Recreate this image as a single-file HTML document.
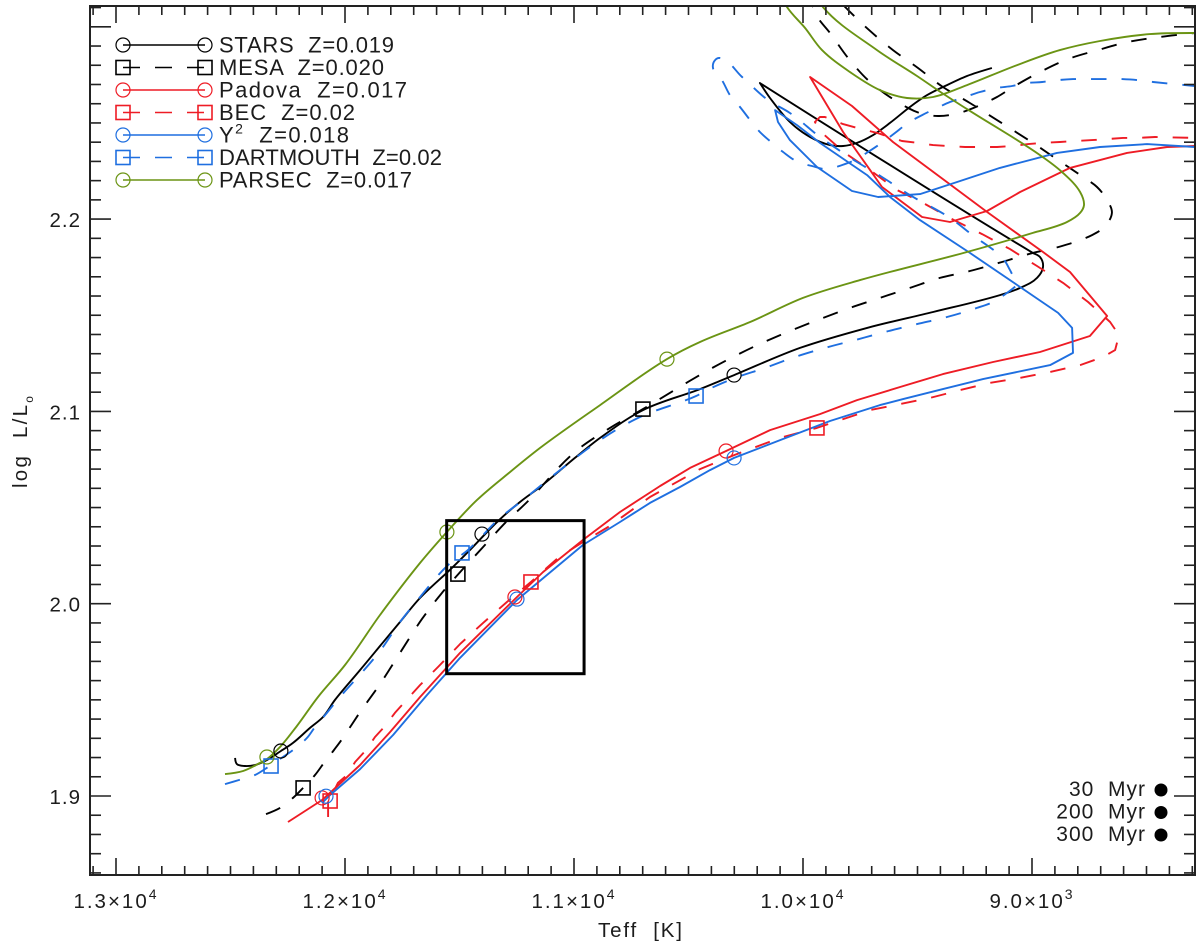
<!DOCTYPE html>
<html lang="en">
<head>
<meta charset="utf-8">
<title>HR diagram isochrones</title>
<style>
html,body{margin:0;padding:0;background:#fff;}
svg{display:block;}
text{font-family:"Liberation Sans",sans-serif;fill:#1c1c1c;white-space:pre;}
</style>
</head>
<body>
<svg id="chart" xmlns="http://www.w3.org/2000/svg" width="1200" height="949" viewBox="0 0 1200 949">
  <defs>
    <clipPath id="plot-clip"><rect x="90" y="6" width="1105" height="869"></rect></clipPath>
  </defs>
  <rect x="0" y="0" width="1200" height="949" fill="#fff"></rect>
  <g id="curves" clip-path="url(#plot-clip)"></g>
  <g id="markers"></g>
  <rect id="zoom-box" fill="none" stroke="#000" stroke-width="3"></rect>
  <g id="axes"></g>
  <g id="legend"></g>
  <text x="598" y="937" font-size="20.5" textLength="84">Teff  [K]</text>
  <text transform="translate(27,488) rotate(-90)" font-size="20.5" textLength="92">log  L/L<tspan dy="6" font-size="12">o</tspan></text>
  <g>
    <text x="1146" y="796" font-size="21" text-anchor="end" letter-spacing="1">30  Myr</text>
    <circle cx="1161" cy="790" r="6.5" fill="#000"></circle>
    <text x="1146" y="818.5" font-size="21" text-anchor="end" letter-spacing="1">200  Myr</text>
    <circle cx="1161" cy="812.5" r="6.5" fill="#000"></circle>
    <text x="1146" y="841" font-size="21" text-anchor="end" letter-spacing="1">300  Myr</text>
    <circle cx="1161" cy="835" r="6.5" fill="#000"></circle>
  </g>
</svg>
<script>
/* ---------- tick data ---------- */
const xMajorTicks = [13000, 12000, 11000, 10000, 9000];
const xMantissas = ["1.3", "1.2", "1.1", "1.0", "9.0"];
const xExponents = ["4", "4", "4", "4", "3"];
const yMajorTicks = [1.9, 2.0, 2.1, 2.2];
const yTickLabels = ["1.9", "2.0", "2.1", "2.2"];

/* ---------- series: effective temperature (K) and log luminosity ---------- */
const starsTeff = [12480,12472,12437,12393,12349,12280,12227,12153,12096,12044,11934,11847,11760,11672,11533,11463,11336,11236,11148,10996,10886,10699,10450,10301,10013,9720,9432,9140,9052,8978,8952,8965,8996,10188,10144,10057,9969,9882,9825,9764,9694,9620,9533,9458,9371,9284,9175];
const starsLogL = [1.9198,1.9166,1.9156,1.9161,1.9182,1.9234,1.9276,1.9354,1.9411,1.9499,1.9655,1.9780,1.9905,2.0030,2.0186,2.0269,2.0425,2.0529,2.0607,2.0758,2.0862,2.1007,2.1116,2.1189,2.1330,2.1434,2.1517,2.1605,2.1642,2.1694,2.1751,2.1803,2.1824,2.2708,2.2630,2.2505,2.2427,2.2385,2.2380,2.2396,2.2437,2.2500,2.2583,2.2645,2.2697,2.2744,2.2786];

const mesaTeff = [12345,12284,12227,12183,12131,12092,12048,12009,11969,11934,11847,11760,11664,11581,11489,11397,11301,11205,10996,10843,10699,10428,10306,10179,10057,9926,9795,9664,9533,9402,9271,9131,8996,8869,8738,8685,8651,8672,8716,8777,8886,8996,9153,9271,9389,9498,9607,9716,9812,9882,9991,9956,9934,9882,9803,9707,9541,9476,9410,9336,9279,9153,9083,8965,8843,8712,8581,8441,8288];
const mesaLogL = [1.8906,1.8938,1.8990,1.9042,1.9109,1.9172,1.9239,1.9302,1.9374,1.9437,1.9582,1.9744,1.9920,2.0050,2.0175,2.0295,2.0420,2.0529,2.0789,2.0914,2.1012,2.1205,2.1283,2.1356,2.1418,2.1480,2.1538,2.1590,2.1642,2.1694,2.1730,2.1777,2.1824,2.1860,2.1917,2.1959,2.2032,2.2099,2.2167,2.2219,2.2307,2.2396,2.2515,2.2604,2.2687,2.2786,2.2879,2.2988,2.3098,2.3181,2.3181,2.3103,2.3046,2.2968,2.2838,2.2713,2.2578,2.2546,2.2536,2.2546,2.2567,2.2635,2.2687,2.2765,2.2832,2.2879,2.2921,2.2947,2.2968];

const padovaTeff = [12249,12100,12052,11934,11803,11672,11498,11249,11135,10961,10799,10624,10493,10336,10144,9926,9764,9576,9389,9170,8965,8747,8672,8834,8952,9196,9367,9607,9786,9969,9825,9707,9655,9480,9358,9196,9052,8834,8585,8410,8288];
const padovaLogL = [1.8865,1.8979,1.9031,1.9161,1.9333,1.9515,1.9744,2.0035,2.0165,2.0331,2.0477,2.0612,2.0706,2.0794,2.0903,2.0986,2.1059,2.1127,2.1194,2.1257,2.1309,2.1392,2.1496,2.1725,2.1829,2.2037,2.2188,2.2401,2.2588,2.2739,2.2453,2.2255,2.2167,2.2011,2.1985,2.2042,2.2141,2.2266,2.2344,2.2375,2.2380];

const becTeff = [12074,12074,12031,11991,11956,11908,11869,11825,11782,11672,11594,11498,11397,11293,11188,11070,10961,10851,10668,10450,10301,10100,9939,9707,9445,9314,9183,9052,8921,8790,8690,8637,8620,8659,8755,8864,8978,9096,9218,9349,9476,9589,9707,9817,9917,9948,9926,9904,9825,9764,9677,9568,9498,9432,9367,9292,9227,9153,9087,9017,8952,8878,8812,8738,8672,8603,8537,8463,8288];
const becLogL = [1.8891,1.8964,1.9068,1.9109,1.9177,1.9239,1.9307,1.9364,1.9432,1.9577,1.9671,1.9790,1.9900,2.0009,2.0113,2.0238,2.0321,2.0399,2.0555,2.0700,2.0773,2.0862,2.0914,2.1007,2.1070,2.1111,2.1148,2.1174,2.1205,2.1241,2.1283,2.1319,2.1397,2.1465,2.1569,2.1668,2.1756,2.1844,2.1922,2.2000,2.2084,2.2151,2.2255,2.2344,2.2448,2.2505,2.2531,2.2531,2.2494,2.2474,2.2448,2.2406,2.2396,2.2385,2.2380,2.2375,2.2375,2.2375,2.2380,2.2390,2.2396,2.2401,2.2406,2.2411,2.2416,2.2422,2.2422,2.2427,2.2422];

const y2Teff = [12100,12065,11934,11790,11642,11498,11249,10961,10799,10668,10537,10406,10301,10100,9882,9664,9563,9389,9214,8921,8821,8825,8886,9052,9271,9489,9620,9720,9926,10026,10122,10109,10057,9939,9786,9672,9489,9327,9140,8891,8703,8498,8288];
const y2LogL = [1.8964,1.9005,1.9140,1.9317,1.9525,1.9718,2.0019,2.0305,2.0425,2.0524,2.0607,2.0695,2.0758,2.0851,2.0950,2.1033,2.1064,2.1116,2.1168,2.1241,2.1304,2.1434,2.1512,2.1647,2.1824,2.1995,2.2115,2.2229,2.2396,2.2489,2.2567,2.2505,2.2411,2.2271,2.2146,2.2115,2.2130,2.2193,2.2266,2.2344,2.2375,2.2390,2.2375];

const dartmouthTeff = [12524,12463,12393,12336,12271,12227,12166,12131,12079,12044,11847,11760,11672,11550,11463,11323,11223,11061,10886,10712,10467,10419,10297,10166,10035,9904,9773,9642,9502,9371,9240,9170,9109,9065,9096,9131,9192,9249,9358,9533,9655,9764,9825,9926,10057,10153,10266,10362,10384,10393,10354,10319,10275,10231,10188,10135,10087,10022,9961,9895,9830,9773,9716,9651,9598,9541,9480,9415,9358,9292,9227,9153,9087,9022,8956,8886,8821,8747,8681,8607,8541,8471,8288];
const dartmouthLogL = [1.9062,1.9083,1.9109,1.9151,1.9203,1.9239,1.9302,1.9359,1.9432,1.9484,1.9754,1.9905,2.0035,2.0201,2.0279,2.0446,2.0539,2.0695,2.0851,2.0971,2.1080,2.1111,2.1174,2.1226,2.1283,2.1330,2.1371,2.1413,2.1454,2.1491,2.1538,2.1569,2.1616,2.1657,2.1735,2.1803,2.1860,2.1907,2.2006,2.2125,2.2219,2.2297,2.2344,2.2427,2.2552,2.2619,2.2739,2.2838,2.2827,2.2786,2.2723,2.2645,2.2583,2.2515,2.2453,2.2396,2.2349,2.2297,2.2276,2.2260,2.2281,2.2307,2.2349,2.2401,2.2448,2.2500,2.2541,2.2578,2.2609,2.2635,2.2661,2.2682,2.2692,2.2708,2.2713,2.2723,2.2728,2.2728,2.2728,2.2728,2.2723,2.2713,2.2692];

const parsecTeff = [12524,12445,12371,12341,12284,12210,12118,12000,11847,11672,11555,11424,11279,11148,10886,10594,10450,10231,10000,9751,9284,8996,8847,8790,8773,8790,8869,8965,9284,9393,9502,9677,9913,9948,10100,10070,9991,9917,9795,9664,9546,9432,9284,9065,8878,8703,8485,8288];
const parsecLogL = [1.9114,1.9130,1.9172,1.9192,1.9255,1.9364,1.9515,1.9681,1.9941,2.0212,2.0373,2.0539,2.0685,2.0810,2.1033,2.1272,2.1361,2.1465,2.1590,2.1683,2.1829,2.1928,2.1985,2.2032,2.2073,2.2141,2.2245,2.2333,2.2572,2.2656,2.2744,2.2879,2.3103,2.3181,2.3181,2.3103,2.2994,2.2879,2.2765,2.2671,2.2630,2.2635,2.2697,2.2801,2.2879,2.2926,2.2962,2.2968];

/* ---------- age markers (30, 200, 300 Myr) ---------- */
const starsAgeTeff = [12280,11402,10301];
const starsAgeLogL = [1.9234,2.0362,2.1189];
const mesaAgeTeff = [12183,11507,10699];
const mesaAgeLogL = [1.9042,2.0154,2.1012];
const padovaAgeTeff = [12100,11258,10336];
const padovaAgeLogL = [1.8990,2.0035,2.0794];
const becAgeTeff = [12065,11188,9939];
const becAgeLogL = [1.8974,2.0113,2.0914];
const y2AgeTeff = [12083,11249,10301];
const y2AgeLogL = [1.8999,2.0024,2.0758];
const dartmouthAgeTeff = [12323,11489,10467];
const dartmouthAgeLogL = [1.9156,2.0264,2.1080];
const parsecAgeTeff = [12341,11555,10594];
const parsecAgeLogL = [1.9203,2.0373,2.1272];

/* zoom-region box: Teff and log L limits */
const boxTeff = [11556, 10956];
const boxLogL = [1.9636, 2.0432];

/* legend text */
const legendNames = ["STARS","MESA","Padova","BEC","Y","DARTMOUTH","PARSEC"];
const legendSups = ["","","","","2","",""];
const legendMetals = ["  Z=0.019","  Z=0.020","  Z=0.017","  Z=0.02","  Z=0.018","  Z=0.02","  Z=0.017"];
const legendWidths = [175,165,188,136,130,223,193];

/* ---------- axis functions ---------- */
const xScale = t => 116 + (13000 - t) * 0.229;
const yScale = l => 796 - (l - 1.9) * 1923;

const SVGNS = "http://www.w3.org/2000/svg";
function mk(parent, tag, attrs) {
  const el = document.createElementNS(SVGNS, tag);
  for (const k in attrs) el.setAttribute(k, attrs[k]);
  parent.appendChild(el);
  return el;
}
function pathFrom(ts, ls) {
  return ts.map((t, i) => (i ? "L" : "M") + xScale(t).toFixed(1) + " " + yScale(ls[i]).toFixed(1)).join(" ");
}
/* smooth path through the points, keeping sharp turn-around points as corners */
function smoothPathFrom(ts, ls) {
  const px = ts.map(xScale), py = ls.map(yScale), n = px.length;
  const dx = [], dy = [];
  for (let i = 0; i < n; i++) {
    dx[i] = 0; dy[i] = 0;
    if (i === 0 || i === n - 1) continue;
    const ax = px[i] - px[i - 1], ay = py[i] - py[i - 1];
    const bx = px[i + 1] - px[i], by = py[i + 1] - py[i];
    const la = Math.hypot(ax, ay) || 1, lb = Math.hypot(bx, by) || 1;
    const cos = (ax * bx + ay * by) / (la * lb);
    if (cos < 0.3) continue;
    const tx = ax / la + bx / lb, ty = ay / la + by / lb;
    const lt = Math.hypot(tx, ty) || 1;
    dx[i] = tx / lt; dy[i] = ty / lt;
  }
  let d = "M" + px[0].toFixed(1) + " " + py[0].toFixed(1);
  for (let i = 0; i < n - 1; i++) {
    const len = Math.hypot(px[i + 1] - px[i], py[i + 1] - py[i]) / 3;
    d += " C" + (px[i] + dx[i] * len).toFixed(1) + " " + (py[i] + dy[i] * len).toFixed(1) + " " +
      (px[i + 1] - dx[i + 1] * len).toFixed(1) + " " + (py[i + 1] - dy[i + 1] * len).toFixed(1) + " " +
      px[i + 1].toFixed(1) + " " + py[i + 1].toFixed(1);
  }
  return d;
}

const BLACK = "#000000", RED = "#ee1c25", BLUE = "#1f6fe0", GREEN = "#6b9414";
const DASH = "15.5 15";

const models = [
  {key:"stars", color:BLACK, dash:null, smooth:true, shape:"circle", t:starsTeff, l:starsLogL, at:starsAgeTeff, al:starsAgeLogL},
  {key:"mesa", color:BLACK, dash:DASH, smooth:true, shape:"square", t:mesaTeff, l:mesaLogL, at:mesaAgeTeff, al:mesaAgeLogL},
  {key:"padova", color:RED, dash:null, smooth:false, shape:"circle", t:padovaTeff, l:padovaLogL, at:padovaAgeTeff, al:padovaAgeLogL},
  {key:"bec", color:RED, dash:DASH, smooth:false, shape:"square", t:becTeff, l:becLogL, at:becAgeTeff, al:becAgeLogL},
  {key:"y2", color:BLUE, dash:null, smooth:false, shape:"circle", t:y2Teff, l:y2LogL, at:y2AgeTeff, al:y2AgeLogL},
  {key:"dartmouth", color:BLUE, dash:DASH, smooth:true, shape:"square", t:dartmouthTeff, l:dartmouthLogL, at:dartmouthAgeTeff, al:dartmouthAgeLogL},
  {key:"parsec", color:GREEN, dash:null, smooth:true, shape:"circle", t:parsecTeff, l:parsecLogL, at:parsecAgeTeff, al:parsecAgeLogL}
];

function drawMarker(parent, shape, cx, cy, color) {
  let el;
  if (shape === "circle") {
    el = mk(parent, "circle", {cx:cx, cy:cy, r:7, fill:"none", stroke:color, "stroke-width":1.2});
  } else {
    el = mk(parent, "rect", {x:cx - 7, y:cy - 7, width:14, height:14, fill:"none", stroke:color, "stroke-width":1.6});
  }
  return el;
}

/* ---------- curves and markers ---------- */
const curvesG = document.getElementById("curves");
const markersG = document.getElementById("markers");
models.forEach(m => {
  const d = m.smooth ? smoothPathFrom(m.t, m.l) : pathFrom(m.t, m.l);
  const p = mk(curvesG, "path", {d:d, fill:"none", stroke:m.color, "stroke-width":1.9, "stroke-linejoin":"round"});
  
  
  if (m.dash) p.setAttribute("stroke-dasharray", m.dash);
});
models.forEach(m => {
  m.at.forEach((t, i) => {
    const el = drawMarker(markersG, m.shape, xScale(t), yScale(m.al[i]), m.color);
    
    
  });
});

/* ---------- zoom-region box ---------- */
const box = document.getElementById("zoom-box");
box.setAttribute("x", xScale(boxTeff[0]));
box.setAttribute("y", yScale(boxLogL[1]));
box.setAttribute("width", xScale(boxTeff[1]) - xScale(boxTeff[0]));
box.setAttribute("height", yScale(boxLogL[0]) - yScale(boxLogL[1]));

/* ---------- axes ---------- */
const axesG = document.getElementById("axes");
const L = 90, R = 1195, T = 6, B = 875;
const frame = mk(axesG, "rect", {x:L, y:T, width:R - L, height:B - T, fill:"none", stroke:"#222", "stroke-width":2});



for (let t = 8300; t <= 13100; t += 100) {
  const major = t % 1000 === 0;
  const x = xScale(t), len = major ? 17 : 9;
  const bottomTick = mk(axesG, "line", {x1:x, x2:x, y1:B, y2:B - len, stroke:"#222", "stroke-width":1.6});
  
  
  const topTick = mk(axesG, "line", {x1:x, x2:x, y1:T, y2:T + len, stroke:"#222", "stroke-width":1.6});
  
  
}
for (let n = 186; n <= 231; n += 1) {
  const major = n % 10 === 0;
  const y = yScale(n / 100), len = major ? 21 : 11;
  const leftTick = mk(axesG, "line", {x1:L, x2:L + len, y1:y, y2:y, stroke:"#222", "stroke-width":1.6});
  
  
  const rightTick = mk(axesG, "line", {x1:R, x2:R - len, y1:y, y2:y, stroke:"#222", "stroke-width":1.6});
  
  
}
xMajorTicks.forEach((t, i) => {
  const label = mk(axesG, "text", {x:xScale(t), y:908, "font-size":20.5, "text-anchor":"middle", "letter-spacing":2});
  
  
  label.textContent = xMantissas[i] + "\u00D710";
  const sup = mk(label, "tspan", {dy:-9, "font-size":14});
  sup.textContent = xExponents[i];
});
yMajorTicks.forEach((v, i) => {
  const label = mk(axesG, "text", {x:81, y:yScale(v) + 8, "font-size":20.5, "text-anchor":"end", "letter-spacing":1});
  
  
  label.textContent = yTickLabels[i];
});

/* ---------- model legend ---------- */
const legendG = document.getElementById("legend");
models.forEach((m, i) => {
  const y = 45 + i * 22.5;
  const line = mk(legendG, "line", {x1:123, x2:205, y1:y, y2:y, stroke:m.color, "stroke-width":1.6});
  
  
  if (m.dash) line.setAttribute("stroke-dasharray", "17 15");
  [123, 205].forEach(x => {
    const mark = drawMarker(legendG, m.shape, x, y, m.color);
    
    
  });
  const label = mk(legendG, "text", {x:219, y:y + 7.5, "font-size":22, textLength:legendWidths[i]});
  
  
  label.appendChild(document.createTextNode(legendNames[i]));
  if (legendSups[i]) {
    const sup = mk(label, "tspan", {dy:-9, "font-size":14});
    sup.textContent = legendSups[i];
    const rest = mk(label, "tspan", {dy:9});
    rest.textContent = legendMetals[i];
  } else {
    label.appendChild(document.createTextNode(legendMetals[i]));
  }
});
</script>
</body>
</html>
